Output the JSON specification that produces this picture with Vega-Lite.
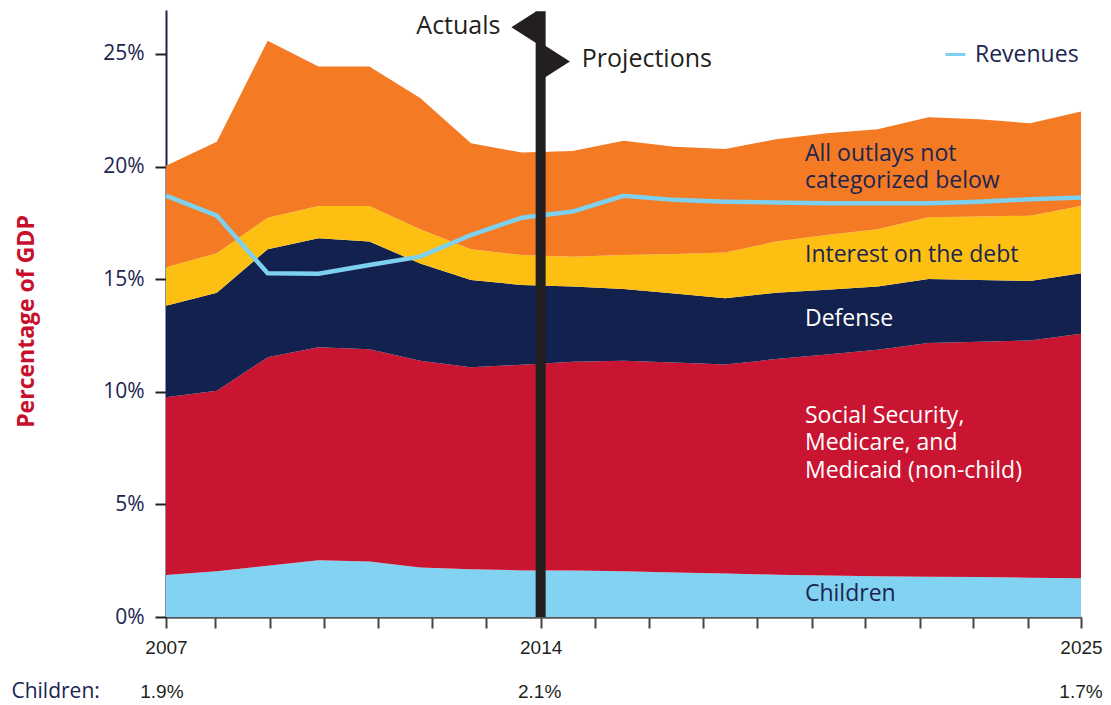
{
  "$schema": "https://vega.github.io/schema/vega-lite/v6.json",
  "width": 915,
  "height": 607,
  "autosize": {"type": "none"},
  "padding": {"left": 166, "top": 10, "right": 30, "bottom": 88},
  "background": "white",
  "config": {"view": {"stroke": null}, "font": "Open Sans"},
  "data": {"values": [{}]},
  "datasets": {
    "outlays": [
      {"year": 2007, "category": "Children", "rank": 1, "value": 1.87},
      {"year": 2007, "category": "Social Security, Medicare, and Medicaid (non-child)", "rank": 2, "value": 7.89},
      {"year": 2007, "category": "Defense", "rank": 3, "value": 4.06},
      {"year": 2007, "category": "Interest on the debt", "rank": 4, "value": 1.71},
      {"year": 2007, "category": "All outlays not categorized below", "rank": 5, "value": 4.51},
      {"year": 2008, "category": "Children", "rank": 1, "value": 2.03},
      {"year": 2008, "category": "Social Security, Medicare, and Medicaid (non-child)", "rank": 2, "value": 8.02},
      {"year": 2008, "category": "Defense", "rank": 3, "value": 4.35},
      {"year": 2008, "category": "Interest on the debt", "rank": 4, "value": 1.75},
      {"year": 2008, "category": "All outlays not categorized below", "rank": 5, "value": 4.95},
      {"year": 2009, "category": "Children", "rank": 1, "value": 2.28},
      {"year": 2009, "category": "Social Security, Medicare, and Medicaid (non-child)", "rank": 2, "value": 9.25},
      {"year": 2009, "category": "Defense", "rank": 3, "value": 4.80},
      {"year": 2009, "category": "Interest on the debt", "rank": 4, "value": 1.40},
      {"year": 2009, "category": "All outlays not categorized below", "rank": 5, "value": 7.85},
      {"year": 2010, "category": "Children", "rank": 1, "value": 2.52},
      {"year": 2010, "category": "Social Security, Medicare, and Medicaid (non-child)", "rank": 2, "value": 9.46},
      {"year": 2010, "category": "Defense", "rank": 3, "value": 4.84},
      {"year": 2010, "category": "Interest on the debt", "rank": 4, "value": 1.43},
      {"year": 2010, "category": "All outlays not categorized below", "rank": 5, "value": 6.19},
      {"year": 2011, "category": "Children", "rank": 1, "value": 2.46},
      {"year": 2011, "category": "Social Security, Medicare, and Medicaid (non-child)", "rank": 2, "value": 9.43},
      {"year": 2011, "category": "Defense", "rank": 3, "value": 4.78},
      {"year": 2011, "category": "Interest on the debt", "rank": 4, "value": 1.58},
      {"year": 2011, "category": "All outlays not categorized below", "rank": 5, "value": 6.19},
      {"year": 2012, "category": "Children", "rank": 1, "value": 2.20},
      {"year": 2012, "category": "Social Security, Medicare, and Medicaid (non-child)", "rank": 2, "value": 9.18},
      {"year": 2012, "category": "Defense", "rank": 3, "value": 4.32},
      {"year": 2012, "category": "Interest on the debt", "rank": 4, "value": 1.52},
      {"year": 2012, "category": "All outlays not categorized below", "rank": 5, "value": 5.82},
      {"year": 2013, "category": "Children", "rank": 1, "value": 2.12},
      {"year": 2013, "category": "Social Security, Medicare, and Medicaid (non-child)", "rank": 2, "value": 8.97},
      {"year": 2013, "category": "Defense", "rank": 3, "value": 3.87},
      {"year": 2013, "category": "Interest on the debt", "rank": 4, "value": 1.37},
      {"year": 2013, "category": "All outlays not categorized below", "rank": 5, "value": 4.70},
      {"year": 2014, "category": "Children", "rank": 1, "value": 2.07},
      {"year": 2014, "category": "Social Security, Medicare, and Medicaid (non-child)", "rank": 2, "value": 9.13},
      {"year": 2014, "category": "Defense", "rank": 3, "value": 3.54},
      {"year": 2014, "category": "Interest on the debt", "rank": 4, "value": 1.33},
      {"year": 2014, "category": "All outlays not categorized below", "rank": 5, "value": 4.55},
      {"year": 2015, "category": "Children", "rank": 1, "value": 2.06},
      {"year": 2015, "category": "Social Security, Medicare, and Medicaid (non-child)", "rank": 2, "value": 9.27},
      {"year": 2015, "category": "Defense", "rank": 3, "value": 3.34},
      {"year": 2015, "category": "Interest on the debt", "rank": 4, "value": 1.33},
      {"year": 2015, "category": "All outlays not categorized below", "rank": 5, "value": 4.69},
      {"year": 2016, "category": "Children", "rank": 1, "value": 2.03},
      {"year": 2016, "category": "Social Security, Medicare, and Medicaid (non-child)", "rank": 2, "value": 9.35},
      {"year": 2016, "category": "Defense", "rank": 3, "value": 3.18},
      {"year": 2016, "category": "Interest on the debt", "rank": 4, "value": 1.51},
      {"year": 2016, "category": "All outlays not categorized below", "rank": 5, "value": 5.07},
      {"year": 2017, "category": "Children", "rank": 1, "value": 1.98},
      {"year": 2017, "category": "Social Security, Medicare, and Medicaid (non-child)", "rank": 2, "value": 9.32},
      {"year": 2017, "category": "Defense", "rank": 3, "value": 3.06},
      {"year": 2017, "category": "Interest on the debt", "rank": 4, "value": 1.76},
      {"year": 2017, "category": "All outlays not categorized below", "rank": 5, "value": 4.76},
      {"year": 2018, "category": "Children", "rank": 1, "value": 1.93},
      {"year": 2018, "category": "Social Security, Medicare, and Medicaid (non-child)", "rank": 2, "value": 9.28},
      {"year": 2018, "category": "Defense", "rank": 3, "value": 2.94},
      {"year": 2018, "category": "Interest on the debt", "rank": 4, "value": 2.03},
      {"year": 2018, "category": "All outlays not categorized below", "rank": 5, "value": 4.60},
      {"year": 2019, "category": "Children", "rank": 1, "value": 1.88},
      {"year": 2019, "category": "Social Security, Medicare, and Medicaid (non-child)", "rank": 2, "value": 9.57},
      {"year": 2019, "category": "Defense", "rank": 3, "value": 2.95},
      {"year": 2019, "category": "Interest on the debt", "rank": 4, "value": 2.27},
      {"year": 2019, "category": "All outlays not categorized below", "rank": 5, "value": 4.54},
      {"year": 2020, "category": "Children", "rank": 1, "value": 1.84},
      {"year": 2020, "category": "Social Security, Medicare, and Medicaid (non-child)", "rank": 2, "value": 9.81},
      {"year": 2020, "category": "Defense", "rank": 3, "value": 2.88},
      {"year": 2020, "category": "Interest on the debt", "rank": 4, "value": 2.43},
      {"year": 2020, "category": "All outlays not categorized below", "rank": 5, "value": 4.52},
      {"year": 2021, "category": "Children", "rank": 1, "value": 1.81},
      {"year": 2021, "category": "Social Security, Medicare, and Medicaid (non-child)", "rank": 2, "value": 10.06},
      {"year": 2021, "category": "Defense", "rank": 3, "value": 2.80},
      {"year": 2021, "category": "Interest on the debt", "rank": 4, "value": 2.55},
      {"year": 2021, "category": "All outlays not categorized below", "rank": 5, "value": 4.43},
      {"year": 2022, "category": "Children", "rank": 1, "value": 1.79},
      {"year": 2022, "category": "Social Security, Medicare, and Medicaid (non-child)", "rank": 2, "value": 10.38},
      {"year": 2022, "category": "Defense", "rank": 3, "value": 2.84},
      {"year": 2022, "category": "Interest on the debt", "rank": 4, "value": 2.74},
      {"year": 2022, "category": "All outlays not categorized below", "rank": 5, "value": 4.44},
      {"year": 2023, "category": "Children", "rank": 1, "value": 1.78},
      {"year": 2023, "category": "Social Security, Medicare, and Medicaid (non-child)", "rank": 2, "value": 10.44},
      {"year": 2023, "category": "Defense", "rank": 3, "value": 2.74},
      {"year": 2023, "category": "Interest on the debt", "rank": 4, "value": 2.82},
      {"year": 2023, "category": "All outlays not categorized below", "rank": 5, "value": 4.32},
      {"year": 2024, "category": "Children", "rank": 1, "value": 1.74},
      {"year": 2024, "category": "Social Security, Medicare, and Medicaid (non-child)", "rank": 2, "value": 10.54},
      {"year": 2024, "category": "Defense", "rank": 3, "value": 2.64},
      {"year": 2024, "category": "Interest on the debt", "rank": 4, "value": 2.90},
      {"year": 2024, "category": "All outlays not categorized below", "rank": 5, "value": 4.10},
      {"year": 2025, "category": "Children", "rank": 1, "value": 1.72},
      {"year": 2025, "category": "Social Security, Medicare, and Medicaid (non-child)", "rank": 2, "value": 10.86},
      {"year": 2025, "category": "Defense", "rank": 3, "value": 2.68},
      {"year": 2025, "category": "Interest on the debt", "rank": 4, "value": 2.99},
      {"year": 2025, "category": "All outlays not categorized below", "rank": 5, "value": 4.19}
    ],
    "revenues": [
      {"year": 2007, "value": 18.71},
      {"year": 2008, "value": 17.82},
      {"year": 2009, "value": 15.26},
      {"year": 2010, "value": 15.24},
      {"year": 2011, "value": 15.63},
      {"year": 2012, "value": 16.0},
      {"year": 2013, "value": 16.96},
      {"year": 2014, "value": 17.73},
      {"year": 2015, "value": 18.0},
      {"year": 2016, "value": 18.7},
      {"year": 2017, "value": 18.52},
      {"year": 2018, "value": 18.44},
      {"year": 2019, "value": 18.4},
      {"year": 2020, "value": 18.37},
      {"year": 2021, "value": 18.37},
      {"year": 2022, "value": 18.37},
      {"year": 2023, "value": 18.44},
      {"year": 2024, "value": 18.55},
      {"year": 2025, "value": 18.62}
    ]
  },
  "layer": [
    {
      "data": {"name": "outlays"},
      "mark": {"type": "area", "opacity": 1},
      "encoding": {
        "x": {
          "field": "year", "type": "quantitative",
          "scale": {"domain": [2007, 2025], "nice": false, "zero": false},
          "axis": {
            "title": null, "grid": false,
            "values": [2007, 2007.97, 2009.04, 2010.11, 2011.17, 2012.23, 2013.3, 2014.37, 2015.44, 2016.5, 2017.56, 2018.63, 2019.7, 2020.76, 2021.83, 2022.88, 2023.95, 2025],
            "labelExpr": "datum.value == 2007 ? '2007' : (abs(datum.value - 2014.37) < 0.01 ? '2014' : (datum.value == 2025 ? '2025' : ''))",
            "labelFlush": false, "labelOverlap": false,
            "labelFont": "Liberation Sans", "labelFontSize": 19, "labelColor": "#231F20", "labelPadding": 10,
            "tickSize": 11, "tickColor": "#444444", "tickWidth": 2,
            "domainColor": "#58595B", "domainWidth": 2.5
          }
        },
        "y": {
          "field": "value", "type": "quantitative", "stack": "zero",
          "scale": {"domain": [0, 26.95], "nice": false},
          "axis": {
            "values": [0, 5, 10, 15, 20, 25],
            "labelExpr": "datum.value + '%'",
            "grid": false,
            "title": "Percentage of GDP",
            "titleColor": "#C8102E", "titleFont": "Open Sans", "titleFontWeight": "bold", "titleFontSize": 23,
            "titleAngle": -90, "titleX": -140, "titleY": 311, "titleAlign": "center", "titleBaseline": "middle",
            "labelFont": "Open Sans", "labelFontSize": 21, "labelColor": "#1B2550", "labelPadding": 11,
            "tickSize": 11, "tickColor": "#231F20", "tickWidth": 2,
            "domainColor": "#1B2550", "domainWidth": 2
          }
        },
        "fill": {
          "field": "category", "type": "nominal",
          "scale": {
            "domain": ["Children", "Social Security, Medicare, and Medicaid (non-child)", "Defense", "Interest on the debt", "All outlays not categorized below"],
            "range": ["#82D3F1", "#C91432", "#13214E", "#FCBF12", "#F47A24"]
          },
          "legend": null
        },
        "order": {"field": "rank", "type": "quantitative", "sort": "ascending"}
      }
    },
    {
      "data": {"name": "revenues"},
      "mark": {"type": "line", "strokeWidth": 4.5, "strokeJoin": "miter"},
      "encoding": {
        "x": {"field": "year", "type": "quantitative"},
        "y": {"field": "value", "type": "quantitative"},
        "stroke": {
          "datum": "Revenues",
          "scale": {"range": ["#7DD0EE"]},
          "legend": {
            "title": null, "orient": "none", "legendX": 778, "legendY": 33,
            "symbolType": "stroke", "symbolStrokeWidth": 3, "symbolSize": 400,
            "labelFont": "Open Sans", "labelFontSize": 23, "labelColor": "#1B2550", "labelOffset": 8
          }
        }
      }
    },
    {
      "mark": {"type": "rule", "strokeWidth": 10, "color": "#231F20"},
      "encoding": {"x": {"datum": 2014.37}, "y": {"datum": 0}, "y2": {"datum": 26.9}}
    },
    {
      "mark": {"type": "point", "shape": "M1,-1.28L-1,0L1,1.28Z", "size": 625, "filled": true, "color": "#231F20", "opacity": 1, "strokeWidth": 0},
      "encoding": {"x": {"datum": 2014.04}, "y": {"datum": 26.18}}
    },
    {
      "mark": {"type": "point", "shape": "M-1,-1.28L1,0L-1,1.28Z", "size": 625, "filled": true, "color": "#231F20", "opacity": 1, "strokeWidth": 0},
      "encoding": {"x": {"datum": 2014.7}, "y": {"datum": 24.66}}
    },
    {
      "mark": {"type": "text", "text": "Actuals", "align": "right", "baseline": "alphabetic", "font": "Open Sans", "fontSize": 25, "color": "#231F20"},
      "encoding": {"x": {"datum": 2013.58}, "y": {"datum": 25.89}}
    },
    {
      "mark": {"type": "text", "text": "Projections", "align": "left", "baseline": "alphabetic", "font": "Open Sans", "fontSize": 25, "color": "#231F20"},
      "encoding": {"x": {"datum": 2015.18}, "y": {"datum": 24.4}}
    },
    {
      "mark": {"type": "text", "text": ["All outlays not", "categorized below"], "align": "left", "baseline": "alphabetic", "font": "Open Sans", "fontSize": 23, "lineHeight": 27.5, "color": "#1B2550"},
      "encoding": {"x": {"datum": 2019.57}, "y": {"datum": 20.26}}
    },
    {
      "mark": {"type": "text", "text": "Interest on the debt", "align": "left", "baseline": "alphabetic", "font": "Open Sans", "fontSize": 23, "color": "#1B2550"},
      "encoding": {"x": {"datum": 2019.57}, "y": {"datum": 15.78}}
    },
    {
      "mark": {"type": "text", "text": "Defense", "align": "left", "baseline": "alphabetic", "font": "Open Sans", "fontSize": 23, "color": "#FFFFFF"},
      "encoding": {"x": {"datum": 2019.57}, "y": {"datum": 12.93}}
    },
    {
      "mark": {"type": "text", "text": ["Social Security,", "Medicare, and", "Medicaid (non-child)"], "align": "left", "baseline": "alphabetic", "font": "Open Sans", "fontSize": 23, "lineHeight": 27.5, "color": "#FFFFFF"},
      "encoding": {"x": {"datum": 2019.57}, "y": {"datum": 8.62}}
    },
    {
      "mark": {"type": "text", "text": "Children", "align": "left", "baseline": "alphabetic", "font": "Open Sans", "fontSize": 23, "color": "#1B2550"},
      "encoding": {"x": {"datum": 2019.57}, "y": {"datum": 0.69}}
    },
    {
      "mark": {"type": "text", "text": "Children:", "align": "left", "baseline": "middle", "font": "Open Sans", "fontSize": 21, "color": "#1B2550"},
      "encoding": {"x": {"datum": 2003.96}, "y": {"datum": -3.33}}
    },
    {
      "mark": {"type": "text", "text": "1.9%", "align": "center", "baseline": "middle", "font": "Liberation Sans", "fontSize": 19, "color": "#231F20"},
      "encoding": {"x": {"datum": 2006.92}, "y": {"datum": -3.33}}
    },
    {
      "mark": {"type": "text", "text": "2.1%", "align": "center", "baseline": "middle", "font": "Liberation Sans", "fontSize": 19, "color": "#231F20"},
      "encoding": {"x": {"datum": 2014.35}, "y": {"datum": -3.33}}
    },
    {
      "mark": {"type": "text", "text": "1.7%", "align": "center", "baseline": "middle", "font": "Liberation Sans", "fontSize": 19, "color": "#231F20"},
      "encoding": {"x": {"datum": 2025}, "y": {"datum": -3.33}}
    }
  ]
}
